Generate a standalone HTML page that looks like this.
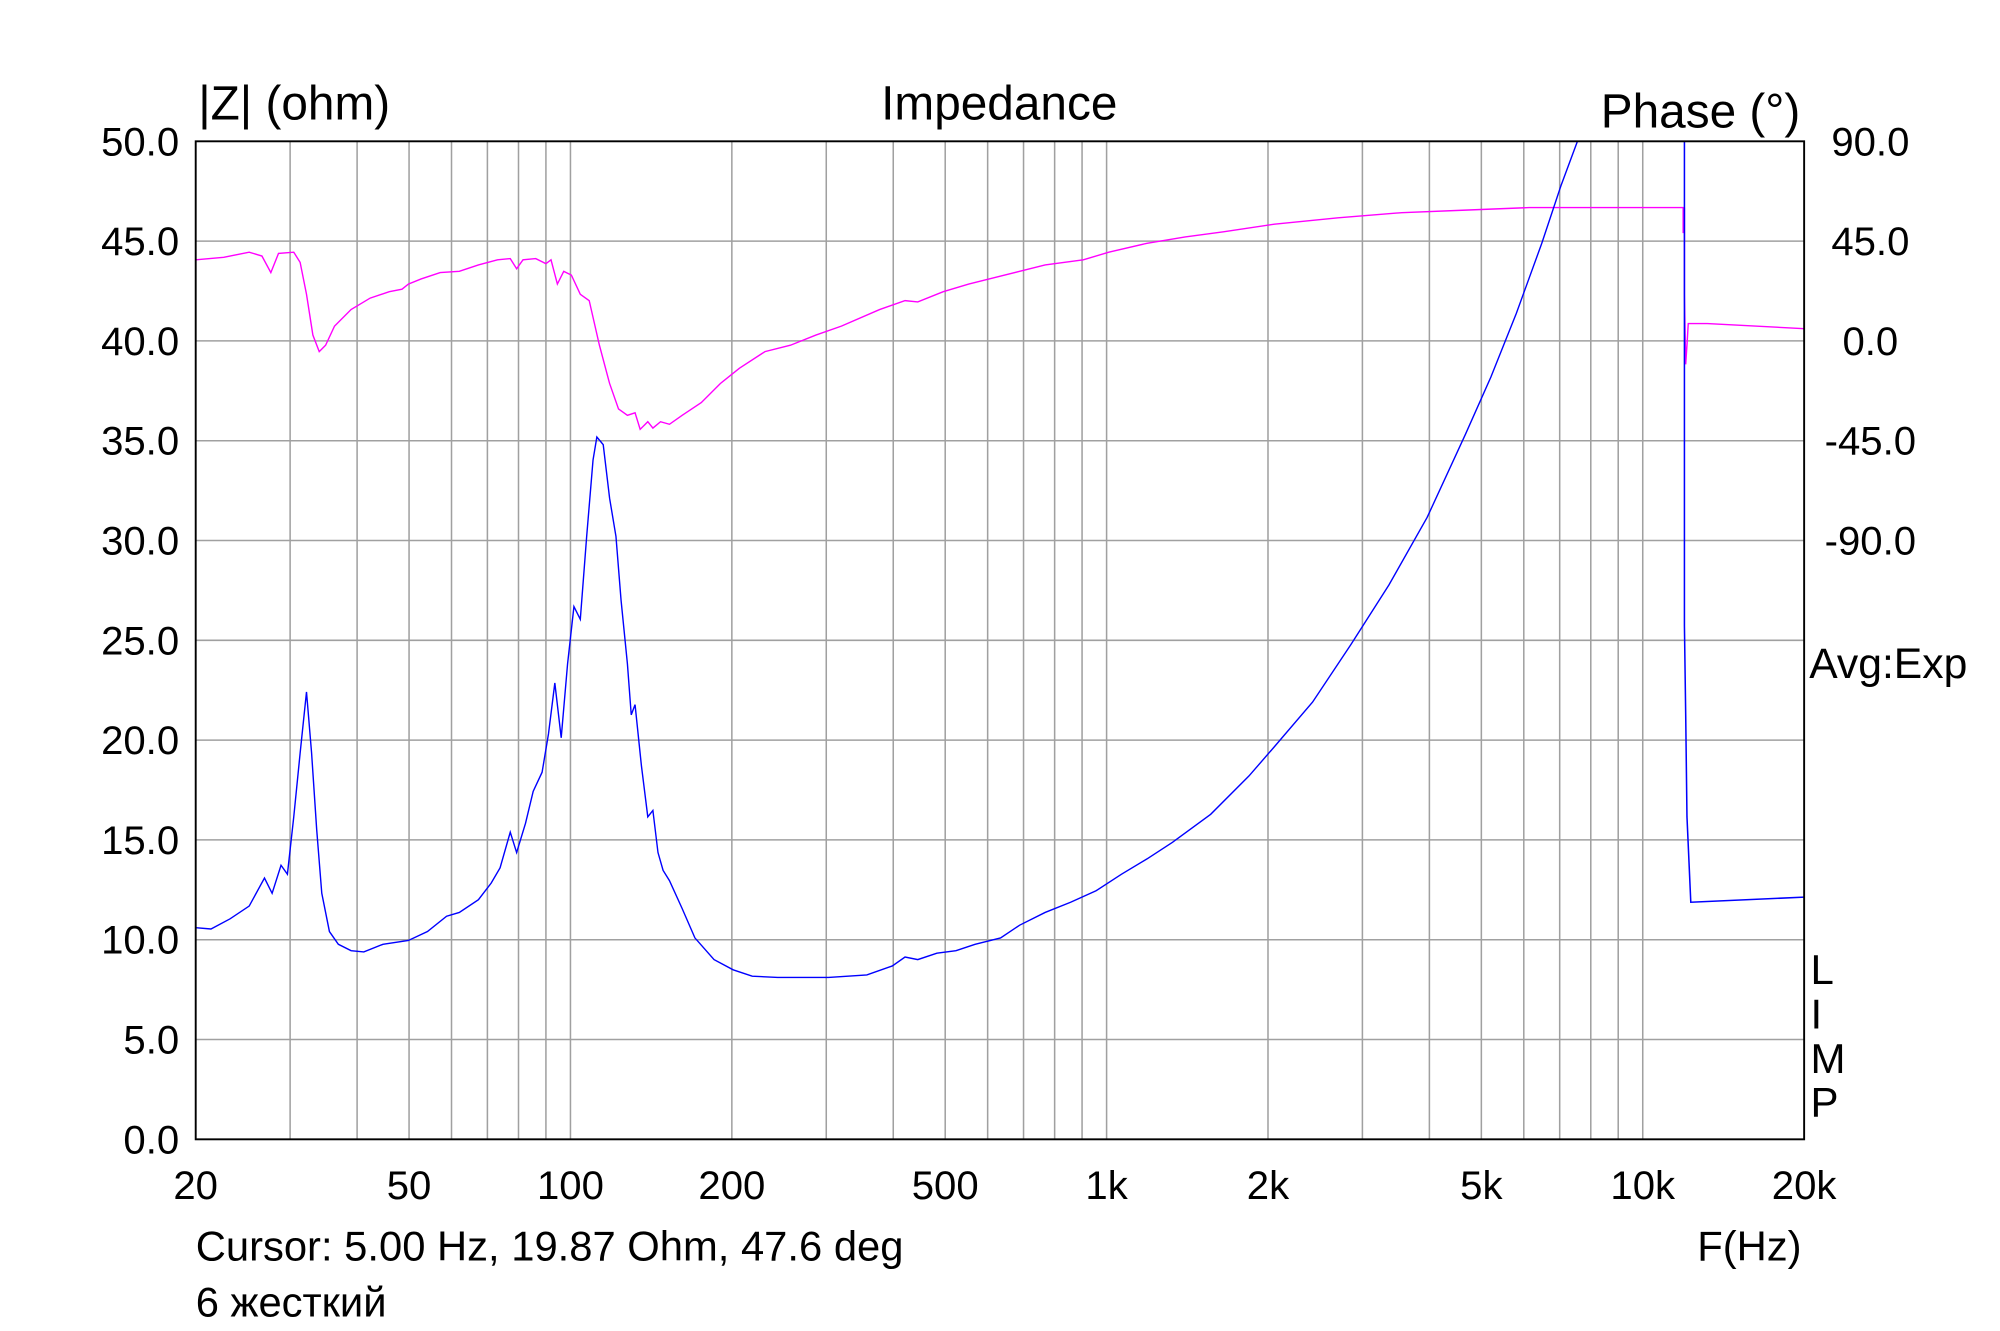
<!DOCTYPE html>
<html><head><meta charset="utf-8"><style>
html,body{margin:0;padding:0;background:#fff;}
svg{display:block;}
text{font-family:"Liberation Sans",Arial,sans-serif;fill:#000;}
</style></head><body>
<svg id="s" width="2000" height="1331" viewBox="0 0 2000 1331" xmlns="http://www.w3.org/2000/svg">
<g id="g" transform="matrix(1.2735,0,0,1.2746,0.86,1.1)">
<g id="grid" stroke="#a0a0a0" stroke-width="1.2" fill="none"></g>
<polyline fill="none" stroke="#ff00ff" stroke-width="1.1" points="153,203 175,201 195,197 205,200 212,213 218,198 230,197 235,205 240,230 245,262 250,275 255,270 262,255 275,242 290,233 305,228 315,226 320,222 330,218 345,213 360,212 375,207 390,203 400,202 405,210 410,203 420,202 428,206 432,203 437,222 442,212 448,215 455,230 462,235 470,270 478,300 485,320 492,325 498,323 502,336 508,330 512,335 518,330 525,332 535,325 550,315 565,300 580,288 600,275 620,270 640,262 660,255 690,242 710,235 720,236 740,228 760,222 780,217 800,212 820,207 850,203 870,197 900,190 930,185 960,181 1000,175 1050,170 1100,166 1150,164 1200,162 1321,162 1321,182 1322,162 1322,230 1323,285 1324,270 1325,253 1340,253 1416,257"/>
<polyline fill="none" stroke="#0000ff" stroke-width="1.1" points="153,727 165,728 180,720 195,710 207,688 213,700 220,678 225,685 230,640 235,590 240,542 244,590 248,650 252,700 258,730 265,740 275,745 285,746 300,740 320,737 335,730 350,718 360,715 375,705 385,692 392,680 400,652 405,668 412,645 418,620 425,605 430,575 435,535 440,578 445,520 450,475 455,485 460,420 465,360 468,342 473,348 478,390 483,420 487,470 492,520 495,560 498,552 503,600 508,640 512,635 516,668 520,682 525,690 535,712 545,735 560,752 575,760 590,765 610,766 630,766 650,766 680,764 700,757 710,750 720,752 735,747 750,745 765,740 785,735 800,725 820,715 840,707 860,698 880,685 900,673 920,660 950,638 980,608 1000,585 1030,550 1060,505 1090,458 1120,405 1150,340 1170,295 1190,245 1210,190 1225,145 1238,110"/>
<polyline fill="none" stroke="#0000ff" stroke-width="1.2" points="1322,110 1322,490 1323,560 1324,640 1327,707 1416,703"/>
<rect x="153" y="110" width="1263" height="783" fill="none" stroke="#000" stroke-width="1.5"/>
<g id="lab" font-size="31.5"></g>
<text x="155" y="93" font-size="37.5">|Z| (ohm)</text>
<text x="784" y="93" font-size="37.5" text-anchor="middle">Impedance</text>
<text x="1413" y="99" font-size="37.5" text-anchor="end">Phase (°)</text>
<text x="1420" y="531" font-size="33.5">Avg:Exp</text>
<text x="1421" y="771" font-size="33">L</text>
<text x="1421" y="806" font-size="33">I</text>
<text x="1421" y="841" font-size="33">M</text>
<text x="1421" y="875" font-size="33">P</text>
<text x="153" y="988" font-size="32.8">Cursor: 5.00 Hz, 19.87 Ohm, 47.6 deg</text>
<text x="1414" y="988" font-size="32.8" text-anchor="end">F(Hz)</text>
<text x="153" y="1032" font-size="32.8">6 жесткий</text>
</g>
</svg>
<script>
var L=153,R=1416,T=110,B=893,NS="http://www.w3.org/2000/svg";
function X(f){return L+(R-L)*Math.log10(f/20)/3;}
var grid=document.getElementById("grid"),lab=document.getElementById("lab");
function line(x1,y1,x2,y2){var l=document.createElementNS(NS,"line");l.setAttribute("x1",x1);l.setAttribute("y1",y1);l.setAttribute("x2",x2);l.setAttribute("y2",y2);grid.appendChild(l);}
function txt(x,y,s,a){var t=document.createElementNS(NS,"text");t.setAttribute("x",x);t.setAttribute("y",y);t.setAttribute("text-anchor",a);t.textContent=s;lab.appendChild(t);}
var fs=[30,40,50,60,70,80,90,100,200,300,400,500,600,700,800,900,1000,2000,3000,4000,5000,6000,7000,8000,9000,10000];
fs.forEach(function(f){var x=X(f);line(x,T,x,B);});
for(var i=1;i<10;i++){var y=T+(B-T)*i/10;line(L,y,R,y);}
for(var i=0;i<=10;i++){var y=B-(B-T)*i/10;txt(140,y+11,(i*5).toFixed(1),"end");}
var ph=["90.0","45.0","0.0","-45.0","-90.0"];
ph.forEach(function(p,i){txt(1468,T+(B-T)*i/10+11,p,"middle");});
var xl=[[20,"20"],[50,"50"],[100,"100"],[200,"200"],[500,"500"],[1000,"1k"],[2000,"2k"],[5000,"5k"],[10000,"10k"],[20000,"20k"]];
xl.forEach(function(a){txt(X(a[0]),940,a[1],"middle");});
</script>
</body></html>
